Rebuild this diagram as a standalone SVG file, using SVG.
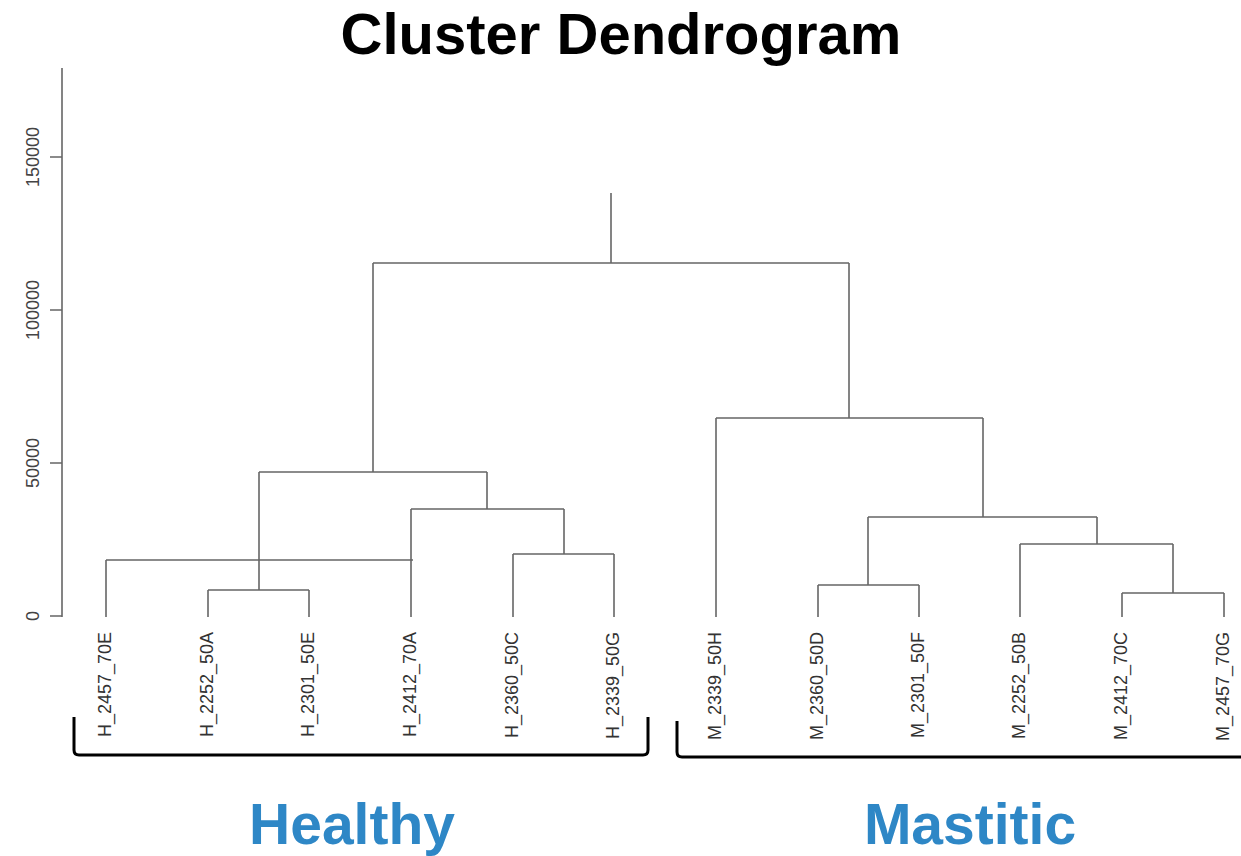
<svg xmlns="http://www.w3.org/2000/svg" width="1241" height="856" viewBox="0 0 1241 856">
<style>
.title{font-family:"Liberation Sans",Arial,sans-serif;font-weight:bold;font-size:58px;fill:#000}
.grp{font-family:"Liberation Sans",Arial,sans-serif;font-weight:bold;font-size:57px;fill:#2E87C6}
.lbl{font-family:"Liberation Sans",Arial,sans-serif;font-size:18px;fill:#333}
.ax{font-family:"Liberation Sans",Arial,sans-serif;font-size:18px;fill:#444}
.ln{stroke:#666;stroke-width:1.6;fill:none}
.br{stroke:#000;stroke-width:3;fill:none;stroke-linejoin:round}
</style>
<rect width="1241" height="856" fill="#fff"/>
<text class="title" x="621" y="54" text-anchor="middle">Cluster Dendrogram</text>
<g id="axis">
<path class="ln" d="M62,68 V617 M50,616 H62 M50,463 H62 M50,310 H62 M50,157 H62"/>
<text class="ax" text-anchor="middle" transform="translate(39,616) rotate(-90)">0</text>
<text class="ax" text-anchor="middle" transform="translate(39,463) rotate(-90)">50000</text>
<text class="ax" text-anchor="middle" transform="translate(39,310) rotate(-90)">100000</text>
<text class="ax" text-anchor="middle" transform="translate(39,157) rotate(-90)">150000</text>
</g>
<g id="connectors">
<path class="ln" d="M611,193 V263 M373,263 H849"/>
<path class="ln" d="M373,263 V472 M259,472 H487"/>
<path class="ln" d="M259,472 V590 M208,590 H309 M208,590 V617 M309,590 V617"/>
<path class="ln" d="M106,560 H413 M106,560 V617"/>
<path class="ln" d="M487,472 V509 M411,509 H564 M411,509 V617"/>
<path class="ln" d="M564,509 V554 M513,554 H614 M513,554 V617 M614,554 V617"/>
<path class="ln" d="M849,263 V418 M716,418 H983 M716,418 V617"/>
<path class="ln" d="M983,418 V517 M868,517 H1097"/>
<path class="ln" d="M868,517 V585 M818,585 H919 M818,585 V617 M919,585 V617"/>
<path class="ln" d="M1097,517 V544 M1020,544 H1173 M1020,544 V617"/>
<path class="ln" d="M1173,544 V593 M1122,593 H1224 M1122,593 V617 M1224,593 V617"/>
</g>
<g id="leaf-labels">
<text class="lbl" text-anchor="end" transform="translate(111,632) rotate(-90)">H_2457_70E</text>
<text class="lbl" text-anchor="end" transform="translate(213,632) rotate(-90)">H_2252_50A</text>
<text class="lbl" text-anchor="end" transform="translate(314,632) rotate(-90)">H_2301_50E</text>
<text class="lbl" text-anchor="end" transform="translate(416,632) rotate(-90)">H_2412_70A</text>
<text class="lbl" text-anchor="end" transform="translate(518,632) rotate(-90)">H_2360_50C</text>
<text class="lbl" text-anchor="end" transform="translate(619,632) rotate(-90)">H_2339_50G</text>
<text class="lbl" text-anchor="end" transform="translate(721,632) rotate(-90)">M_2339_50H</text>
<text class="lbl" text-anchor="end" transform="translate(823,632) rotate(-90)">M_2360_50D</text>
<text class="lbl" text-anchor="end" transform="translate(924,632) rotate(-90)">M_2301_50F</text>
<text class="lbl" text-anchor="end" transform="translate(1025,632) rotate(-90)">M_2252_50B</text>
<text class="lbl" text-anchor="end" transform="translate(1127,632) rotate(-90)">M_2412_70C</text>
<text class="lbl" text-anchor="end" transform="translate(1229,632) rotate(-90)">M_2457_70G</text>
</g>
<g id="healthy">
<path class="br" d="M74,717 V750 Q74,755 79,755 H643 Q648,755 648,750 V717"/>
<text class="grp" x="352" y="844" text-anchor="middle">Healthy</text>
</g>
<g id="mastitic">
<path class="br" d="M677,721 V752 Q677,757 682,757 H1241"/>
<text class="grp" x="970" y="844" text-anchor="middle">Mastitic</text>
</g>
</svg>
